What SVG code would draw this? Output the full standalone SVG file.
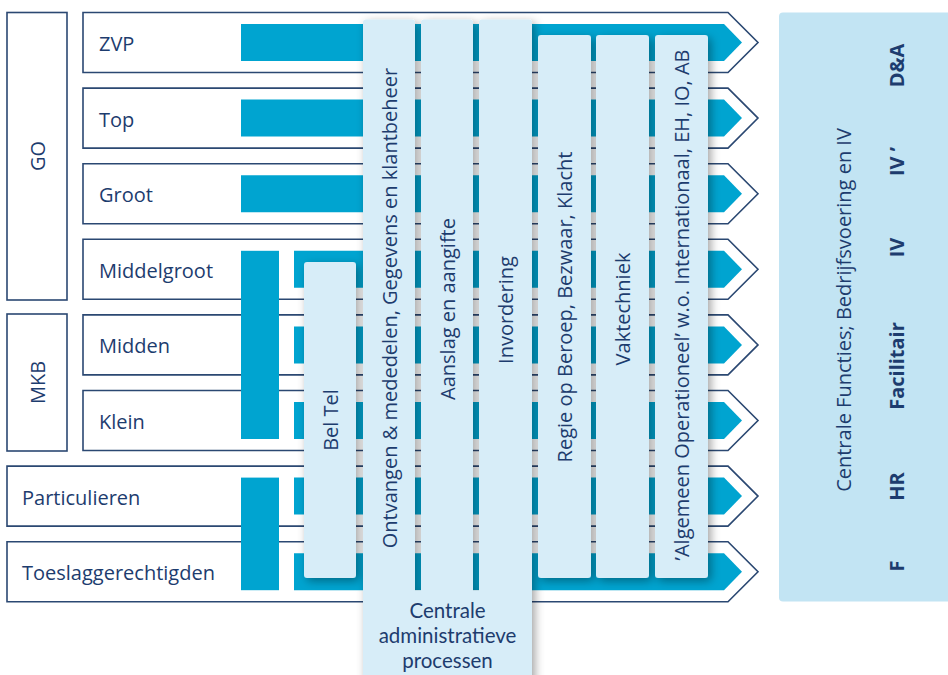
<svg xmlns="http://www.w3.org/2000/svg" width="948" height="675" viewBox="0 0 948 675">
<defs>
<style>
.row{fill:#ffffff;stroke:#2b4872;stroke-width:1.6}
.grp{fill:#ffffff;stroke:#2b4872;stroke-width:1.6}
.bar{fill:#00a4d0}
.col{fill:#d7edf8}
.lbl{font-family:"Open Sans","Noto Sans","Liberation Sans",sans-serif;font-size:20px;fill:#1d3c6e}
.tight{font-family:Lato,"Open Sans","Liberation Sans",sans-serif;font-size:20.5px;fill:#1d3c6e;text-anchor:middle}
.bold{font-weight:bold}
.mid{text-anchor:middle}
</style>
<filter id="shadow" filterUnits="userSpaceOnUse" x="250" y="0" width="560" height="700">
<feDropShadow dx="3" dy="3" stdDeviation="5" flood-color="#000000" flood-opacity="0.36"/>
</filter>
</defs>

<g id="group-GO">
<rect class="grp" x="7" y="12.5" width="60" height="287.5"/>
<text class="lbl mid" transform="translate(44.5,156) rotate(-90)">GO</text>
</g>
<g id="group-MKB">
<rect class="grp" x="7" y="314" width="60" height="137"/>
<text class="lbl mid" transform="translate(44.5,382.5) rotate(-90)">MKB</text>
</g>

<g id="rows">
<g id="row-ZVP"><path class="row" d="M83 12.5 H728 L758 42.5 L728 72.5 H83 Z"/><path class="bar" d="M241 24 H724 L742 42.5 L724 61 H241 Z"/></g>
<g id="row-Top"><path class="row" d="M83 88.1 H728 L758 118.1 L728 148.1 H83 Z"/><path class="bar" d="M241 99.6 H724 L742 118.1 L724 136.6 H241 Z"/></g>
<g id="row-Groot"><path class="row" d="M83 163.7 H728 L758 193.7 L728 223.7 H83 Z"/><path class="bar" d="M241 175.2 H724 L742 193.7 L724 212.2 H241 Z"/></g>
<g id="row-Middelgroot"><path class="row" d="M83 239.3 H728 L758 269.3 L728 299.3 H83 Z"/><path class="bar" d="M294 250.8 H724 L742 269.3 L724 287.8 H294 Z"/></g>
<g id="row-Midden"><path class="row" d="M83 314.9 H728 L758 344.9 L728 374.9 H83 Z"/><path class="bar" d="M294 326.4 H724 L742 344.9 L724 363.4 H294 Z"/></g>
<g id="row-Klein"><path class="row" d="M83 390.5 H728 L758 420.5 L728 450.5 H83 Z"/><path class="bar" d="M294 402 H724 L742 420.5 L724 439 H294 Z"/></g>
<g id="row-Particulieren"><path class="row" d="M7 466.1 H728 L758 496.1 L728 526.1 H7 Z"/><path class="bar" d="M294 477.6 H724 L742 496.1 L724 514.6 H294 Z"/></g>
<g id="row-Toeslaggerechtigden"><path class="row" d="M7 541.7 H728 L758 571.7 L728 601.7 H7 Z"/><path class="bar" d="M294 553.2 H724 L742 571.7 L724 590.2 H294 Z"/></g>
<rect id="vbar-MKB" class="bar" x="241" y="250.8" width="38" height="188.2"/>
<rect id="vbar-P" class="bar" x="241" y="477.6" width="38" height="112.6"/>
</g>

<g id="row-labels">
<text class="lbl" x="99" y="51">ZVP</text>
<text class="lbl" x="99" y="126.6">Top</text>
<text class="lbl" x="99" y="202.2">Groot</text>
<text class="lbl" x="99" y="277.8">Middelgroot</text>
<text class="lbl" x="99" y="353.4">Midden</text>
<text class="lbl" x="99" y="429">Klein</text>
<text class="lbl" x="22" y="504.6">Particulieren</text>
<text class="lbl" x="22" y="580.2">Toeslaggerechtigden</text>
</g>

<g id="columns" filter="url(#shadow)">
<rect id="col-beltel" class="col" x="304" y="262" width="52" height="316" rx="3"/>
<g id="col-centraal">
<rect class="col" x="363" y="19.5" width="52" height="590" rx="3"/>
<rect class="col" x="421" y="19.5" width="52" height="590" rx="3"/>
<rect class="col" x="479" y="19.5" width="53" height="590" rx="3"/>
<rect class="col" x="363" y="590.5" width="169" height="100"/>
</g>
<rect id="col-regie" class="col" x="538" y="35" width="53" height="543" rx="3"/>
<rect id="col-vaktechniek" class="col" x="596" y="35" width="53" height="543" rx="3"/>
<rect id="col-algemeen" class="col" x="655" y="35" width="53" height="543" rx="3"/>
</g>

<g id="column-labels">
<text class="lbl mid" transform="translate(337.5,420) rotate(-90)">Bel Tel</text>
<text class="lbl mid" transform="translate(396.5,308) rotate(-90)">Ontvangen &amp; mededelen, Gegevens en klantbeheer</text>
<text class="lbl mid" transform="translate(454.5,309) rotate(-90)">Aanslag en aangifte</text>
<text class="lbl mid" transform="translate(512.5,310) rotate(-90)">Invordering</text>
<text class="lbl mid" transform="translate(571.5,307) rotate(-90)">Regie op Beroep, Bezwaar, Klacht</text>
<text class="lbl mid" transform="translate(629.5,309) rotate(-90)">Vaktechniek</text>
<text class="lbl mid" transform="translate(688.5,305) rotate(-90)">’Algemeen Operationeel’ w.o. Internationaal, EH, IO, AB</text>
<text class="tight" x="447.5" y="618">Centrale</text>
<text class="tight" x="447.5" y="643">administratieve</text>
<text class="tight" x="447.5" y="668">processen</text>
</g>

<g id="centrale-functies">
<rect x="779" y="12.5" width="180" height="589" rx="4" fill="#c2e4f3"/>
<text class="lbl mid" transform="translate(851,310) rotate(-90)">Centrale Functies; Bedrijfsvoering en IV</text>
<text class="lbl bold mid" transform="translate(904,65.5) rotate(-90)">D&amp;A</text>
<text class="lbl bold mid" transform="translate(904,161.5) rotate(-90)">IV ’</text>
<text class="lbl bold mid" transform="translate(904,247.5) rotate(-90)">IV</text>
<text class="lbl bold mid" transform="translate(904,366) rotate(-90)">Facilitair</text>
<text class="lbl bold mid" transform="translate(904,486.5) rotate(-90)">HR</text>
<text class="lbl bold mid" transform="translate(904,566) rotate(-90)">F</text>
</g>
</svg>
